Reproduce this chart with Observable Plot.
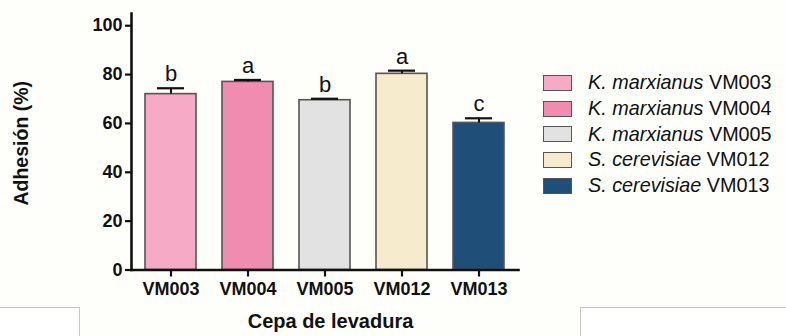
<!DOCTYPE html>
<html>
<head>
<meta charset="utf-8">
<script src="https://cdn.jsdelivr.net/npm/d3@7"></script>
<script src="https://cdn.jsdelivr.net/npm/@observablehq/plot@0.6"></script>
<style>
  html, body { margin: 0; padding: 0; background: #fefefb; }
  #wrap { position: relative; width: 786px; height: 336px; overflow: hidden; font-family: "Liberation Sans", Arial, sans-serif; }
  .box { position: absolute; background: #fff; border-color: #c8c8c8; border-style: solid; }
  #boxL { left: -2px; top: 307px; width: 81px; height: 40px; border-width: 1.5px 1.5px 0 0; }
  #boxR { left: 580px; top: 307px; width: 220px; height: 40px; border-width: 1.5px 0 0 1.5px; }
  #chart { position: absolute; left: 0; top: 0; }
  #legend { position: absolute; left: 543px; top: 70px; }
  .row { display: flex; align-items: center; height: 25.7px; }
  .sw { width: 27px; height: 14px; border: 1.5px solid #555; box-sizing: content-box; margin-right: 16px; }
  .lab { font-size: 19.8px; color: #111; white-space: nowrap; }
  .lab i { font-style: italic; }
</style>
</head>
<body>
<div id="wrap">
  <div class="box" id="boxL"></div>
  <div class="box" id="boxR"></div>
  <div id="chart"></div>
  <div id="legend"></div>
</div>
<script>
// Yeast strains, species, mean adhesion (%) and upper error
const strains = ["VM003", "VM004", "VM005", "VM012", "VM013"];
const species = ["K. marxianus", "K. marxianus", "K. marxianus", "S. cerevisiae", "S. cerevisiae"];
const adhesion = [72.0, 77.0, 69.5, 80.3, 60.2];
const errorUp = [2.4, 0.8, 0.6, 1.3, 1.9];
const groups = ["b", "a", "b", "a", "c"];
const colors = ["#f7aac5", "#f08cb0", "#e2e2e2", "#f7ebcd", "#1f4e79"];
const yTicks = [0, 20, 40, 60, 80, 100];

const data = strains.map((s, i) => ({
  strain: s,
  value: adhesion[i],
  upper: adhesion[i] + errorUp[i],
  group: groups[i]
}));

const font = "'Liberation Sans', Arial, sans-serif";

const chart = Plot.plot({
  width: 786,
  height: 336,
  marginLeft: 131,
  marginRight: 268,
  marginTop: 13,
  marginBottom: 66.5,
  style: { background: "transparent", fontFamily: font, color: "#111" },
  x: { domain: strains, paddingInner: 0.34, paddingOuter: 0.17, axis: null },
  y: { domain: [0, 105], axis: null },
  color: { domain: strains, range: colors },
  marks: [
    Plot.barY(data, { x: "strain", y: "value", fill: "strain", stroke: "#555", strokeWidth: 1.6 }),
    Plot.ruleX(data, { x: "strain", y1: "value", y2: "upper", stroke: "#111", strokeWidth: 2 }),
    Plot.tickY(data, { x: "strain", y: "upper", stroke: "#111", strokeWidth: 2.2, insetLeft: 12, insetRight: 12 }),
    Plot.text(data, { x: "strain", y: "upper", text: "group", dy: -7, lineAnchor: "bottom", fontSize: 22, fill: "#111" }),
    Plot.axisY({ ticks: yTicks, tickSize: 6, tickPadding: 3, strokeWidth: 2.2, fontSize: 18, fontWeight: "bold", label: null, letterSpacing: 0.4 }),
    Plot.axisX({ tickSize: 7, tickPadding: 5, strokeWidth: 2.2, fontSize: 18, fontWeight: "bold", label: null, letterSpacing: 0.6 }),
    Plot.frame({ anchor: "left", stroke: "#111", strokeWidth: 2.6 }),
    Plot.frame({ anchor: "bottom", stroke: "#111", strokeWidth: 2.6 }),
    Plot.text(["Adhesión (%)"], { frameAnchor: "left", textAnchor: "middle", dx: -109.5, dy: 1.5, rotate: -90, fontSize: 19.5, fontWeight: "bold", fill: "#111", letterSpacing: 1 }),
    Plot.text(["Cepa de levadura"], { frameAnchor: "bottom", dx: 5.5, dy: 57.5, fontSize: 20, fontWeight: "bold", fill: "#111", letterSpacing: 1 })
  ]
});
document.getElementById("chart").appendChild(chart);

// Legend: species in italics, strain in roman
const legend = document.getElementById("legend");
strains.forEach((s, i) => {
  const row = document.createElement("div");
  row.className = "row";
  row.innerHTML = `<div class="sw" style="background:${colors[i]}"></div><div class="lab"><i>${species[i]}</i> ${s}</div>`;
  legend.appendChild(row);
});
</script>
</body>
</html>
